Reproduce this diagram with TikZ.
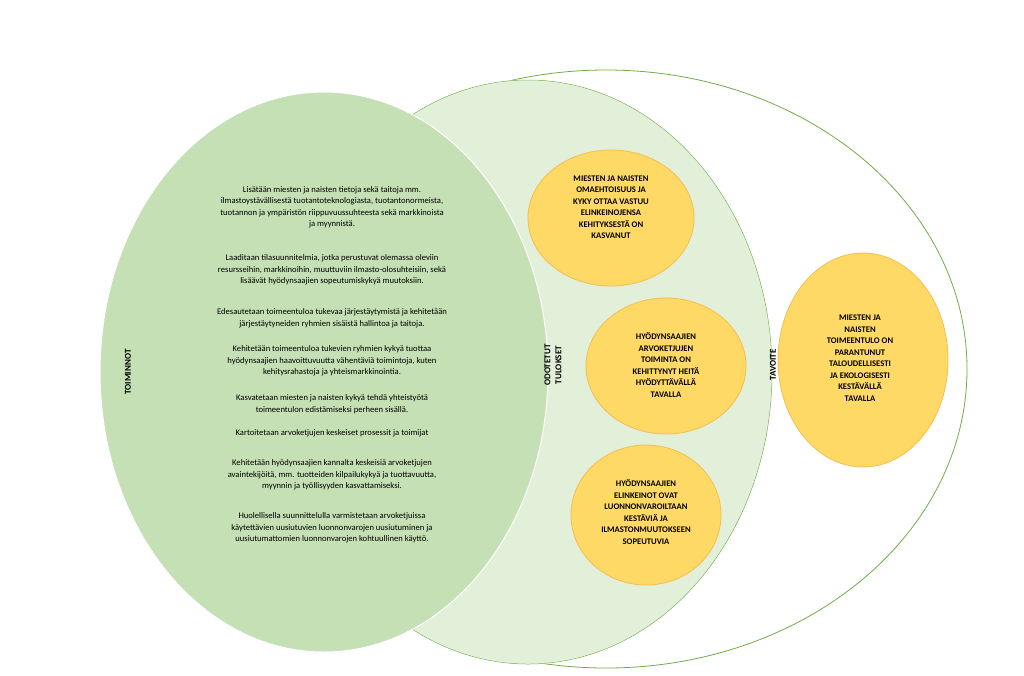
\documentclass[tikz,border=0pt]{standalone}
\usepackage{fontspec}
\setmainfont{Carlito}
\begin{document}
\begin{tikzpicture}[x=1pt,y=-1pt,
 txt/.style={align=center,font=\fontsize{8.6}{11.5}\selectfont},
 yel/.style={draw={rgb,255:red,244;green,190;blue,80},fill={rgb,255:red,255;green,217;blue,102},line width=0.8pt},
 ytxt/.style={align=center,font=\fontsize{8.6}{11.5}\selectfont\bfseries},
 lab/.style={rotate=90,align=center,font=\fontsize{9}{11}\selectfont\bfseries}]
\useasboundingbox (0,0) rectangle (1024,675);
\fill[white] (0,0) rectangle (1024,675);
\draw[draw={rgb,255:red,112;green,173;blue,71},line width=0.8pt,fill=white] (606,369) ellipse [x radius=361,y radius=299];
\draw[draw=white,line width=1pt,fill={rgb,255:red,226;green,239;blue,217}] (528,372) ellipse [x radius=244,y radius=292];
\draw[draw={rgb,255:red,112;green,173;blue,71},line width=0.5pt] (528,372) ellipse [x radius=244,y radius=292];
\draw[draw=white,line width=1pt,fill={rgb,255:red,197;green,224;blue,180}] (324,372) ellipse [x radius=224,y radius=280];
\node[lab] (t1) at (128,372) {TOIMINNOT};
\node[lab] (t2) at (553,365) {ODOTETUT\\TULOKSET};
\node[lab] (t3) at (773,365) {TAVOITE};
\node[txt] (a) at (332,207) {Lisätään miesten ja naisten tietoja sekä taitoja mm.\\ilmastoystävällisestä tuotantoteknologiasta, tuotantonormeista,\\tuotannon ja ympäristön riippuvuussuhteesta sekä markkinoista\\ja myynnistä.};
\node[txt] (b) at (332,270) {Laaditaan tilasuunnitelmia, jotka perustuvat olemassa oleviin\\resursseihin, markkinoihin, muuttuviin ilmasto-olosuhteisiin, sekä\\lisäävät hyödynsaajien sopeutumiskykyä muutoksiin.};
\node[txt] (c) at (332,318) {Edesautetaan toimeentuloa tukevaa järjestäytymistä ja kehitetään\\järjestäytyneiden ryhmien sisäistä hallintoa ja taitoja.};
\node[txt] (d) at (332,361) {Kehitetään toimeentuloa tukevien ryhmien kykyä tuottaa\\hyödynsaajien haavoittuvuutta vähentäviä toimintoja, kuten\\kehitysrahastoja ja yhteismarkkinointia.};
\node[txt] (e) at (332,404) {Kasvatetaan miesten ja naisten kykyä tehdä yhteistyötä\\toimeentulon edistämiseksi perheen sisällä.};
\node[txt] (f) at (332,433) {Kartoitetaan arvoketjujen keskeiset prosessit ja toimijat};
\node[txt] (g) at (332,475) {Kehitetään hyödynsaajien kannalta keskeisiä arvoketjujen\\avaintekijöitä, mm. tuotteiden kilpailukykyä ja tuottavuutta,\\myynnin ja työllisyyden kasvattamiseksi.};
\node[txt] (h) at (332,528) {Huolellisella suunnittelulla varmistetaan arvoketjuissa\\käytettävien uusiutuvien luonnonvarojen uusiutuminen ja\\uusiutumattomien luonnonvarojen kohtuullinen käyttö.};
\draw[yel] (611,218) ellipse [x radius=83,y radius=68];
\draw[yel] (666,366) ellipse [x radius=80,y radius=68];
\draw[yel] (646,515) ellipse [x radius=75,y radius=70];
\draw[yel] (863,360) ellipse [x radius=85,y radius=107];
\node[ytxt] (y1) at (611,207) {MIESTEN JA NAISTEN\\OMAEHTOISUUS JA\\KYKY OTTAA VASTUU\\ELINKEINOJENSA\\KEHITYKSESTÄ ON\\KASVANUT};
\node[ytxt] (y2) at (666,365) {HYÖDYNSAAJIEN\\ARVOKETJUJEN\\TOIMINTA ON\\KEHITTYNYT HEITÄ\\HYÖDYTTÄVÄLLÄ\\TAVALLA};
\node[ytxt] (y3) at (646,512) {HYÖDYNSAAJIEN\\ELINKEINOT OVAT\\LUONNONVAROILTAAN\\KESTÄVIÄ JA\\ILMASTONMUUTOKSEEN\\SOPEUTUVIA};
\node[ytxt] (y4) at (860,358) {MIESTEN JA\\NAISTEN\\TOIMEENTULO ON\\PARANTUNUT\\TALOUDELLISESTI\\JA EKOLOGISESTI\\KESTÄVÄLLÄ\\TAVALLA};
\end{tikzpicture}
\end{document}
